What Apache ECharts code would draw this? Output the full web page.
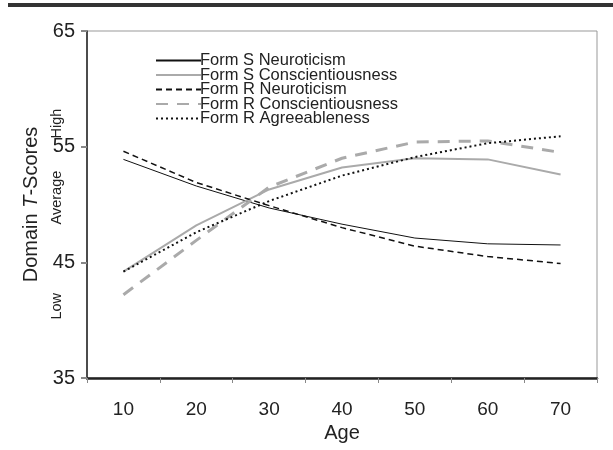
<!DOCTYPE html>
<html><head><meta charset="utf-8">
<script src="https://cdn.jsdelivr.net/npm/echarts@6/dist/echarts.min.js"></script>
<style>html,body{margin:0;padding:0;background:#fff}#c{width:613px;height:450px}</style>
</head><body><div id="c"></div>
<script>
var ages = ['10','20','30','40','50','60','70'];
var formSNeuroticism = [53.9, 51.6, 49.7, 48.3, 47.1, 46.6, 46.5];
var formSConscientiousness = [44.2, 48.2, 51.3, 53.2, 54.0, 53.9, 52.6];
var formRNeuroticism = [54.6, 51.9, 49.9, 48.0, 46.4, 45.5, 44.9];
var formRConscientiousness = [42.2, 46.9, 51.5, 54.0, 55.4, 55.5, 54.5];
var formRAgreeableness = [44.2, 47.6, 50.3, 52.5, 54.1, 55.3, 55.9];
var yTicks = [35, 45, 55, 65];
var bandLabels = [{text:'High', v:57.0}, {text:'Average', v:50.6}, {text:'Low', v:41.2}];

var font = 'Liberation Sans, Arial, sans-serif';
var chart = echarts.init(document.getElementById('c'));
function mk(name, data, color, width, type){
  return {name:name, type:'line', data:data, symbol:'none', smooth:false,
    lineStyle:{color:color, width:width, type:type}, itemStyle:{color:color}};
}
chart.setOption({
  animation:false,
  grid:{left:87, right:16, top:31, bottom:72, show:true, borderColor:'#999', borderWidth:1},
  legend:{orient:'vertical', left:150, top:47, itemWidth:45, itemHeight:10, itemGap:-2.5,
    itemStyle:{opacity:0},
    textStyle:{fontFamily:font, fontSize:16.5, lineHeight:14, color:'#222', padding:[0,0,0,-6]},
    data:['Form S Neuroticism','Form S Conscientiousness','Form R Neuroticism','Form R Conscientiousness','Form R Agreeableness']},
  xAxis:{type:'category', data:ages, boundaryGap:true,
    name:'Age', nameLocation:'middle', nameGap:42,
    nameTextStyle:{fontFamily:font, fontSize:20, color:'#222'},
    axisLine:{lineStyle:{color:'#222', width:2.5}},
    axisTick:{show:true, length:5, lineStyle:{color:'#888', width:1}},
    axisLabel:{fontFamily:font, fontSize:19, color:'#222', margin:22},
    splitLine:{show:false}},
  yAxis:{type:'value', min:35, max:65, interval:10,
    name:'{a|Domain }{b|T}{a|-Scores}', nameLocation:'middle', nameGap:41, nameRotate:90,
    nameTextStyle:{rich:{a:{fontFamily:font, fontSize:20, color:'#222'}, b:{fontFamily:font, fontSize:20, fontStyle:'italic', color:'#222'}}},
    axisLine:{show:true, lineStyle:{color:'#222', width:1.5}},
    axisTick:{show:true, length:6, lineStyle:{color:'#888', width:2}},
    axisLabel:{fontFamily:font, fontSize:20, color:'#222', margin:12},
    splitLine:{show:false}},
  series:[
    mk('Form S Neuroticism', formSNeuroticism, '#111', 1, 'solid'),
    mk('Form S Conscientiousness', formSConscientiousness, '#aaa', 2, 'solid'),
    mk('Form R Neuroticism', formRNeuroticism, '#111', 1.5, [6,4]),
    mk('Form R Conscientiousness', formRConscientiousness, '#aaa', 3, [12,9]),
    mk('Form R Agreeableness', formRAgreeableness, '#111', 2, [2,3])
  ]
});
var gfx = [{type:'rect', shape:{x:8, y:3, width:605, height:4}, style:{fill:'#333'}}];
bandLabels.forEach(function(b){
  var p = chart.convertToPixel({yAxisIndex:0}, b.v);
  gfx.push({type:'text', x:57, y:p, rotation:Math.PI/2,
    style:{text:b.text, fontFamily:font, fontSize:14.5, fill:'#222', align:'center', verticalAlign:'middle'}});
});
chart.setOption({graphic:gfx});
</script></body></html>
